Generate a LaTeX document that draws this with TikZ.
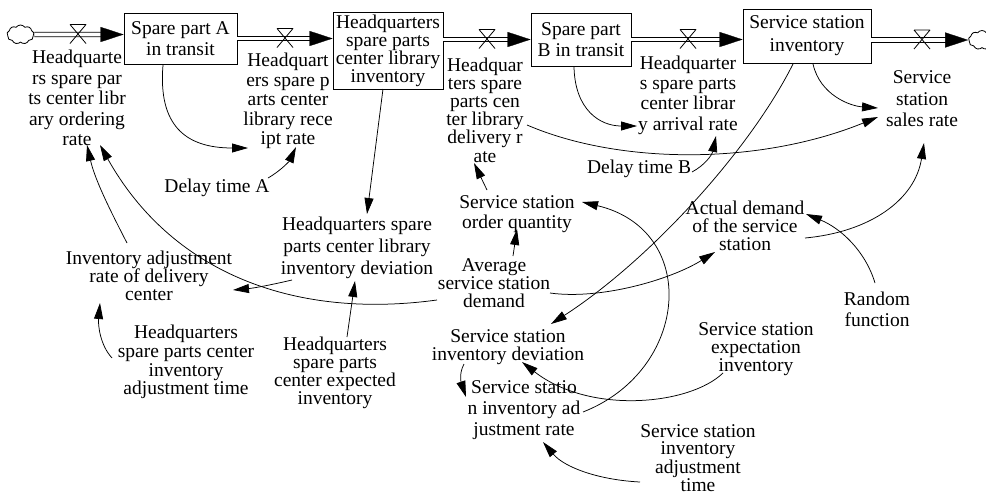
\documentclass[tikz,border=0pt]{standalone}
\usepackage{fontspec}
\setmainfont{Liberation Serif}
\usetikzlibrary{arrows.meta,shapes.symbols}
\tikzset{
  lab/.style={align=center, inner sep=0pt, font=\fontsize{19.5}{#1}\selectfont},
  lab/.default=19,
  stock/.style={draw, line width=0.9pt, align=center, inner sep=0pt, font=\fontsize{19.5}{#1}\selectfont},
  link/.style={line width=0.75pt, -{Triangle[length=16pt,width=9pt]}},
  pipe/.style={double, double distance=3.6pt, line width=0.9pt, shorten >=12pt},
  pipetip/.style={white, line width=0.3pt, -{Triangle[length=23pt,width=15pt,color=black]}},
  cloudy/.style={cloud, draw, cloud puffs=9, cloud puff arc=110, aspect=1.4, inner sep=0pt, line width=0.8pt, minimum width=27pt, minimum height=19pt},
  valve/.pic={\draw[line width=0.8pt] (-8,-10) -- (8,-10) (-8,-10) -- (8,9) (8,-10) -- (-8,9);}
}
\begin{document}
\begin{tikzpicture}[x=1pt,y=-1pt]
\fill[white] (0,0) rectangle (986,496);
\useasboundingbox (0,0) rectangle (986,496);

% stocks
\node[stock=21.5, minimum width=113pt, minimum height=51pt] (sA) at (180.5,38.5) {Spare part A\\in transit};
\node[stock=18.2, minimum width=110pt, minimum height=77pt] (hq) at (388,51) {Headquarters\\spare parts\\center library\\inventory};
\node[stock=21, minimum width=100pt, minimum height=53pt] (sB) at (581,39.5) {Spare part\\B in transit};
\node[stock=23, minimum width=128pt, minimum height=54pt] (ss) at (807,36) {Service station\\inventory};

% clouds
\node[cloudy] (c1) at (20.5,34.5) {};
\node[cloudy] (c2) at (982,40) {};

% rate labels
\node[lab=20.5] (rOrd) at (77,98) {Headquarte\\rs spare par\\ts center libr\\ary ordering\\rate};
\node[lab=19.5] (rRec) at (288,101) {Headquart\\ers spare p\\arts center\\library rece\\ipt rate};
\node[lab=18.2] (rDel) at (485,110) {Headquar\\ters spare\\parts cen\\ter library\\delivery r\\ate};
\node[lab=20.3] (rArr) at (688,95) {Headquarter\\s spare parts\\center librar\\y arrival rate};
\node[lab=21.5] (rSal) at (922,99) {Service\\station\\sales rate};

% auxiliaries
\node[lab] (dA) at (217,188) {Delay time A};
\node[lab] (dB) at (639,169) {Delay time B};
\node[lab=20] (oq) at (517,214) {Service station\\order quantity};
\node[lab=18] (asd) at (494,283) {Average\\service station\\demand};
\node[lab=22] (hqd) at (357,248) {Headquarters spare\\parts center library\\inventory deviation};
\node[lab=18] (iar) at (149,276) {Inventory adjustment\\rate of delivery\\center};
\node[lab=18.7] (hqt) at (186,362) {Headquarters\\spare parts center\\inventory\\adjustment time};
\node[lab=18] (hqe) at (335,373) {Headquarters\\spare parts\\center expected\\inventory};
\node[lab=18] (ssd) at (508,347) {Service station\\inventory deviation};
\node[lab=21] (ssr) at (524,410) {Service statio\\n inventory ad\\justment rate};
\node[lab=17.6] (sst) at (698,458) {Service station\\inventory\\adjustment\\time};
\node[lab=18] (sse) at (756,349.5) {Service station\\expectation\\inventory};
\node[lab=21] (rf) at (877,309) {Random\\function};
\node[lab=18] (ad) at (745,226) {Actual demand\\of the service\\station};

% pipes
\draw[pipe] (c1.east) -- (c1 -| sA.west);
\draw[pipetip] (c1.east) -- (c1 -| sA.west);
\pic at (78,34.5) {valve};
\draw[pipe] (sA.east) -- (sA.east -| hq.west);
\draw[pipetip] (sA.east) -- (sA.east -| hq.west);
\pic at (285,38.5) {valve};
\draw[pipe] (hq.east |- sB.west) -- (sB.west);
\draw[pipetip] (hq.east |- sB.west) -- (sB.west);
\pic at (487,39.5) {valve};
\draw[pipe] (sB.east) -- (sB.east -| ss.west);
\draw[pipetip] (sB.east) -- (sB.east -| ss.west);
\pic at (688,39.5) {valve};
\draw[pipe] (ss.east |- c2.west) -- (c2.west);
\draw[pipetip] (ss.east |- c2.west) -- (c2.west);
\pic at (922,40) {valve};

% links
\draw[link] ([shift={(-17.5,26.5)}]sA.center) .. controls (158,125) and (185,148) .. ([shift={(-40,47)}]rRec.center);
\draw[link] ([shift={(51,-10)}]dA.center) .. controls (282,170) and (290,160) .. ([shift={(8,46)}]rRec.center);
\draw[link] ([shift={(-5,38)}]hq.center) -- ([shift={(10,-34)}]hqd.center);
\draw[link] ([shift={(-65,32)}]hqd.center) .. controls (275,284) and (255,288) .. ([shift={(84,14)}]iar.center);
\draw[link] ([shift={(12,-36)}]hqe.center) -- ([shift={(-2,33)}]hqd.center);
\draw[link] ([shift={(-22,-33)}]iar.center) .. controls (110,210) and (95,180) .. ([shift={(10,47)}]rOrd.center);
\draw[link] ([shift={(-57,17)}]asd.center) .. controls (290,320) and (170,270) .. ([shift={(23,47)}]rOrd.center);
\draw[link] ([shift={(-74,-4)}]hqt.center) .. controls (100,345) and (98,325) .. ([shift={(-49,27)}]iar.center);
\draw[link] ([shift={(-7,27.5)}]sB.center) .. controls (575,110) and (600,126) .. ([shift={(-51,31)}]rArr.center);
\draw[link] ([shift={(53,3)}]dB.center) .. controls (705,165) and (712,155) .. ([shift={(28,41)}]rArr.center);
\draw[link] ([shift={(42,15)}]rDel.center) .. controls (620,165) and (760,165) .. ([shift={(-44,18)}]rSal.center);
\draw[link] ([shift={(6,28)}]ss.center) .. controls (820,95) and (850,106) .. ([shift={(-44,9)}]rSal.center);
\draw[link] ([shift={(-14,28)}]ss.center) .. controls (750,150) and (650,260) .. ([shift={(43,-23)}]ssd.center);
\draw[link] ([shift={(59,2)}]ssr.center) .. controls (690,370) and (700,230) .. ([shift={(65,-12)}]oq.center);
\draw[link] ([shift={(-33,23.5)}]sse.center) .. controls (690,405) and (590,415) .. ([shift={(14,15)}]ssd.center);
\draw[link] ([shift={(19,-27)}]asd.center) -- ([shift={(0,15)}]oq.center);
\draw[link] ([shift={(-30,-24)}]oq.center) -- ([shift={(-11,53)}]rDel.center);
\draw[link] ([shift={(56,10)}]asd.center) .. controls (600,300) and (670,280) .. ([shift={(-30,26)}]ad.center);
\draw[link] ([shift={(60,12)}]ad.center) .. controls (870,232) and (915,200) .. ([shift={(2,44)}]rSal.center);
\draw[link] ([shift={(-2,-26)}]rf.center) .. controls (865,250) and (840,228) .. ([shift={(61,-12)}]ad.center);
\draw[link] ([shift={(-44,17)}]ssd.center) .. controls (458,375) and (462,385) .. ([shift={(-58,-13)}]ssr.center);
\draw[link] ([shift={(-58,24)}]sst.center) .. controls (600,480) and (565,468) .. ([shift={(19,32)}]ssr.center);
\end{tikzpicture}
\end{document}
